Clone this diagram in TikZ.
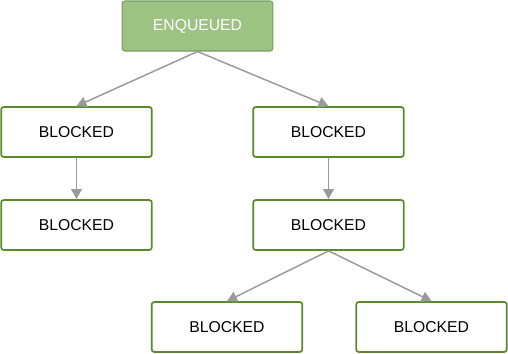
\documentclass[tikz,border=0pt]{standalone}
\usepackage{fontspec}
\setmainfont{Liberation Sans}
\usetikzlibrary{arrows.meta}
\definecolor{stateborder}{HTML}{5B8A2D}
\definecolor{queuedfill}{HTML}{9DC383}
\definecolor{queuedborder}{HTML}{76A05A}
\definecolor{edgegray}{HTML}{9A9A9A}

\begin{document}
\begin{tikzpicture}[x=0.75pt, y=-0.75pt, >={Triangle[length=7.5pt,width=8pt]},
  state/.style={draw=stateborder, line width=1.3pt, rounded corners=2pt, fill=white,
    minimum width=113pt, minimum height=37.5pt, font=\fontsize{11.8}{13}\selectfont, inner sep=0pt},
  queued/.style={state, draw=queuedborder, line width=0.8pt, fill=queuedfill, text=white},
  link/.style={->, draw=edgegray, fill=edgegray, line width=1.1pt}]

  \useasboundingbox (0,0) rectangle (508,354);

  % Nodes
  \node[queued] (enq) at (197.5,26)  {ENQUEUED};
  \node[state]  (bl1) at (76.5,132)  {BLOCKED};
  \node[state]  (br1) at (328.5,132) {BLOCKED};
  \node[state]  (bl2) at (76.5,225)  {BLOCKED};
  \node[state]  (br2) at (328.5,225) {BLOCKED};
  \node[state]  (bb1) at (227,327)   {BLOCKED};
  \node[state]  (bb2) at (431.5,327) {BLOCKED};

  % Edges
  \draw[link] (enq.south) -- (bl1.north);
  \draw[link] (enq.south) -- (br1.north);
  \draw[link] (bl1.south) -- (bl2.north);
  \draw[link] (br1.south) -- (br2.north);
  \draw[link] (br2.south) -- (bb1.north);
  \draw[link] (br2.south) -- (bb2.north);

\end{tikzpicture}
\end{document}
